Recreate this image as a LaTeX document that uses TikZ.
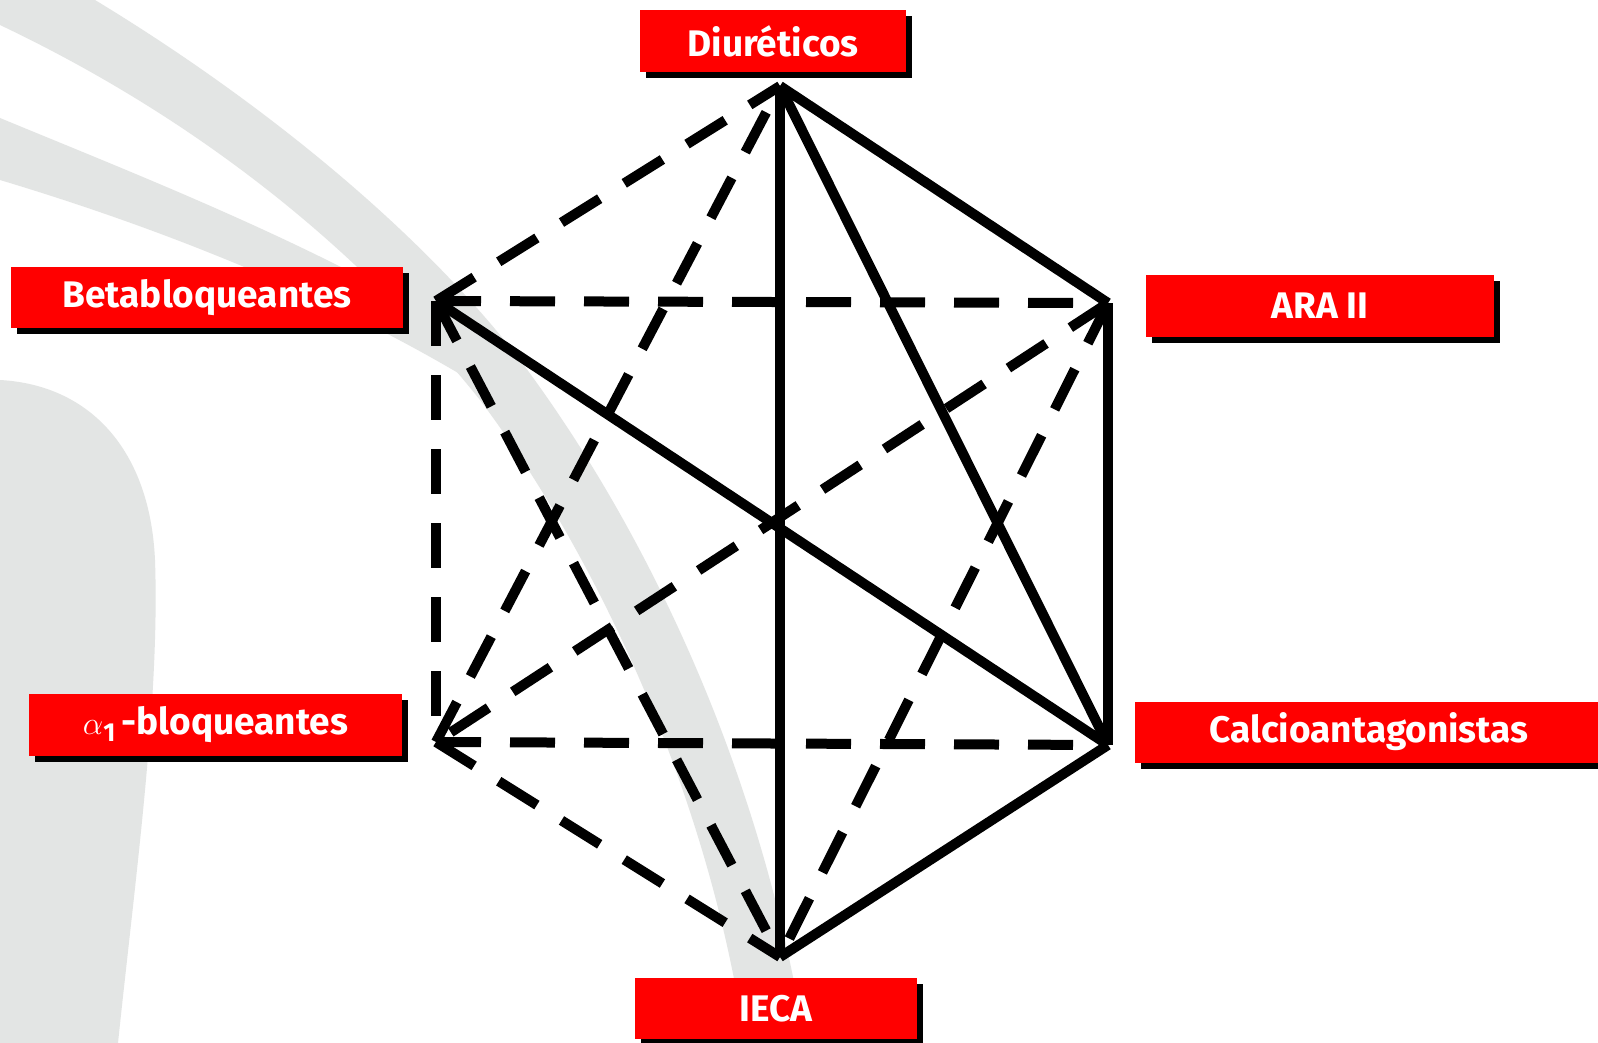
\documentclass[tikz,border=0pt]{standalone}
\usepackage{fontspec}
\setmainfont{Fira Sans}
\usetikzlibrary{shadows}
\definecolor{wmgrey}{HTML}{E3E5E4}
\definecolor{boxred}{HTML}{FF0000}
\begin{document}
\begin{tikzpicture}[x=1pt,y=-1pt,
  solidlink/.style={line width=10pt,black},
  dashlink/.style={line width=10pt,black,dash pattern=on 45pt off 29pt},
  lbl/.style={fill=boxred,text=white,inner sep=0pt,
    font=\fontsize{37}{41}\selectfont\bfseries,
    drop shadow={shadow xshift=6pt,shadow yshift=-6pt,fill=black,opacity=1}},
]
\useasboundingbox (0,0) rectangle (1598,1043);
\fill[white] (0,0) rectangle (1598,1043);

% watermark swooshes
\fill[wmgrey] (0,0) -- (95,0) .. controls (260,100) and (420,230) .. (520,360)
  .. controls (640,520) and (760,760) .. (805,1043) -- (745,1043)
  .. controls (710,800) and (600,560) .. (480,400)
  .. controls (360,250) and (200,120) .. (0,25) -- cycle;
\fill[wmgrey] (0,118) .. controls (150,180) and (330,250) .. (480,345)
  -- (470,380) .. controls (320,290) and (150,225) .. (0,180) -- cycle;
\fill[wmgrey] (0,380) .. controls (90,385) and (150,450) .. (155,560)
  .. controls (160,700) and (135,880) .. (118,1043) -- (0,1043) -- cycle;

% corners of the hexagon
\coordinate (D) at (780,86);
\coordinate (B) at (436,301);
\coordinate (A) at (1108,303);
\coordinate (L) at (436,742);
\coordinate (C) at (1108,745);
\coordinate (I) at (780,957);

% dashed links
\draw[dashlink] (B) -- (D);
\draw[dashlink] (L) -- (D);
\draw[dashlink] (B) -- (A);
\draw[dashlink] (B) -- (L);
\draw[dashlink] (B) -- (I);
\draw[dashlink] (A) -- (L);
\draw[dashlink] (A) -- (I);
\draw[dashlink] (L) -- (C);
\draw[dashlink] (L) -- (I);

% solid links
\draw[solidlink] (D) -- (I);
\draw[solidlink] (D) -- (C);
\draw[solidlink] (D) -- (A);
\draw[solidlink] (A) -- (C);
\draw[solidlink] (B) -- (C);
\draw[solidlink] (C) -- (I);

% drug classes
\node[lbl,minimum width=266pt,minimum height=62pt] (diu) at (773,41) {Diuréticos};
\node[lbl,minimum width=392pt,minimum height=61pt] (beta) at (207,297.5) {Betabloqueantes};
\node[lbl,minimum width=348pt,minimum height=62pt] (ara) at (1320,306) {ARA II};
\node[lbl,minimum width=373pt,minimum height=62pt] (alfa) at (215.5,725)
  {\scalebox{1.3}{$\alpha$}\raisebox{-7pt}{\fontsize{26}{28}\selectfont 1}\,-bloqueantes};
\node[lbl,minimum width=468pt,minimum height=61pt] (calc) at (1369,732) {Calcioantagonistas};
\node[lbl,minimum width=282pt,minimum height=61pt] (ieca) at (776,1008.5) {IECA};
\end{tikzpicture}
\end{document}
